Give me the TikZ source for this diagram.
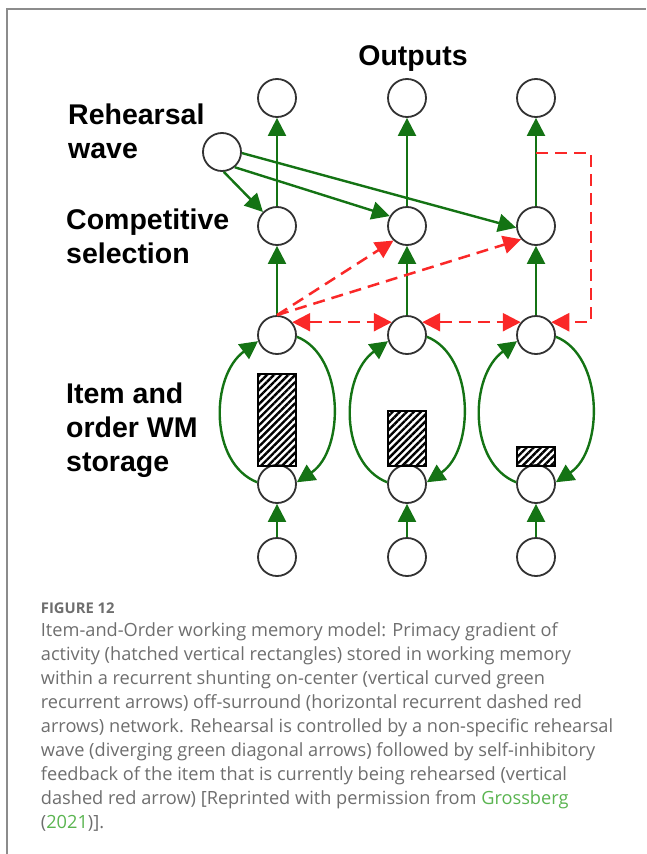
\documentclass[tikz,border=0pt]{standalone}
\usepackage{fontspec}
\setmainfont{Liberation Sans}
\newfontfamily\capfont{Open Sans}
\usetikzlibrary{arrows.meta,patterns.meta}
\definecolor{exgreen}{RGB}{20,115,20}
\definecolor{inred}{RGB}{250,40,40}
\definecolor{ringgray}{RGB}{50,50,50}
\definecolor{capgray}{RGB}{110,110,110}
\definecolor{linkgreen}{RGB}{90,180,80}
\definecolor{framegray}{RGB}{140,140,140}
\tikzset{
  unit/.style={draw=ringgray, circle, line width=1.8pt, minimum size=38pt, inner sep=0pt},
  exc/.style={draw=exgreen, line width=2.4pt},
  inh/.style={draw=inred, line width=2.5pt, dash pattern=on 12pt off 7pt},
  lbl/.style={anchor=north west, inner sep=0pt, align=left, font=\bfseries\fontsize{28.5}{34}\selectfont},
  bar/.style={draw=black, line width=1.5pt, pattern={Lines[angle=45,distance=5pt,line width=2.4pt]}}
}
\begin{document}
\begin{tikzpicture}[x=1pt,y=1pt,>={Triangle[length=18pt,width=18pt]}]
\useasboundingbox (0,0) rectangle (646,-854);
\draw[framegray,line width=1.8pt] (7,-854) -- (7,-9) -- (646,-9);

\node[lbl] at (68,-104) {Rehearsal\\wave};
\node[lbl] at (66,-209) {Competitive\\selection};
\node[lbl] at (66,-382.5) {Item and\\order WM\\storage};
\node[anchor=base, inner sep=0pt, font=\bfseries\fontsize{28.5}{34}\selectfont] at (413,-65) {Outputs};

\node[unit] (o1) at (277,-98) {};
\node[unit] (o2) at (407,-98) {};
\node[unit] (o3) at (536,-98) {};
\node[unit] (r) at (222,-152) {};
\node[unit] (c1) at (277,-226) {};
\node[unit] (c2) at (407,-226) {};
\node[unit] (c3) at (536,-226) {};
\node[unit] (u1) at (277,-335) {};
\node[unit] (u2) at (407,-335) {};
\node[unit] (u3) at (536,-335) {};
\node[unit] (w1) at (277,-484) {};
\node[unit] (w2) at (407,-484) {};
\node[unit] (w3) at (536,-484) {};
\node[unit] (i1) at (277,-557) {};
\node[unit] (i2) at (407,-557) {};
\node[unit] (i3) at (536,-557) {};
\coordinate (fb) at (536,-153);
\coordinate (fbr) at (591,-153);

% stored activity
\path[bar] (258,-374) rectangle (296,-466);
\path[bar] (388,-411) rectangle (426,-466);
\path[bar] (517,-447) rectangle (555,-466);

\path[exc,->] (i1) -- (w1);
\path[exc,->] (i2) -- (w2);
\path[exc,->] (i3) -- (w3);
\path[exc,->] (u1) -- (c1);
\path[exc,->] (u2) -- (c2);
\path[exc,->] (u3) -- (c3);
\path[exc,->] (c1) -- (o1);
\path[exc,->] (c2) -- (o2);
\path[exc,->] (c3) -- (o3);

% on-center loops
\path[exc,->] (w1.175) .. controls +(-48,19) and +(-48,-35) .. (u1.198);
\path[exc,->] (u1.355) .. controls +(48,-19) and +(48,32) .. (w1.5);
\path[exc,->] (w2.175) .. controls +(-48,19) and +(-48,-35) .. (u2.198);
\path[exc,->] (u2.355) .. controls +(48,-19) and +(48,32) .. (w2.5);
\path[exc,->] (w3.175) .. controls +(-48,19) and +(-48,-35) .. (u3.198);
\path[exc,->] (u3.355) .. controls +(48,-19) and +(48,32) .. (w3.5);

% rehearsal wave
\path[exc,->] (r.-85) -- (c1.135);
\path[exc,->] (r.-50) -- (c2.150);
\path[exc,->] (r.-3) -- (c3.185);

% off-surround
\path[inh,<->] (u1.40) -- (u2.140);
\path[inh,<->] (u2.40) -- (u3.140);
\path[inh,->] (u1.north) -- (c2.227);
\path[inh,->] (u1.north) -- (c3.222);
\path[inh,->] (fb) -- (fbr) |- (u3.40);

\node[anchor=base west, inner sep=0pt, text=capgray, font=\capfont\bfseries\fontsize{14.8}{18}\selectfont] at (40.7,-613.3) {FIGURE 12};
\node[anchor=north west, inner sep=0pt, align=left, text=capgray, font=\capfont\fontsize{18.2}{24}\selectfont] at (40.7,-622) {Item-and-Order working memory model: Primacy gradient of\\
activity (hatched vertical rectangles) stored in working memory\\
within a recurrent shunting on-center (vertical curved green\\
recurrent arrows) off-surround (horizontal recurrent dashed red\\
arrows) network. Rehearsal is controlled by a non-specific rehearsal\\
wave (diverging green diagonal arrows) followed by self-inhibitory\\
feedback of the item that is currently being rehearsed (vertical\\
dashed red arrow) [Reprinted with permission from \textcolor{linkgreen}{Grossberg}\\
(\textcolor{linkgreen}{2021})].};
\end{tikzpicture}
\end{document}
